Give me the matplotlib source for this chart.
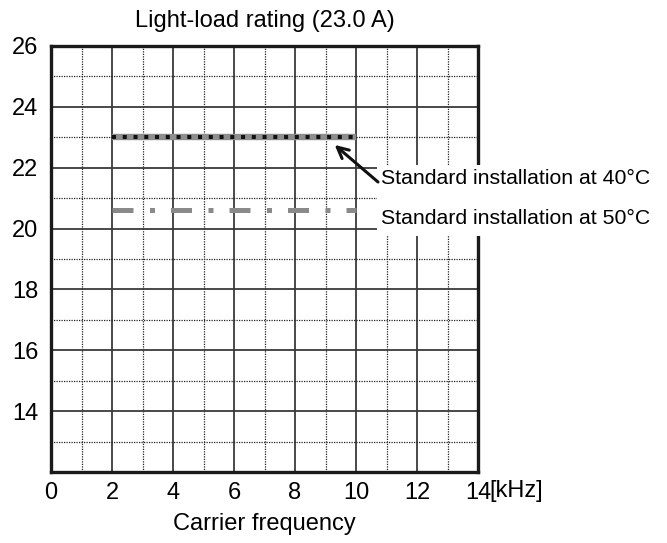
import matplotlib.pyplot as plt
from matplotlib.patches import Rectangle
from matplotlib.ticker import MultipleLocator

plt.rcParams['font.family'] = ['Liberation Sans', 'DejaVu Sans']

title = 'Light-load rating (23.0 A)'
xlabel = 'Carrier frequency'

# rated current vs carrier frequency
freq_40 = [2, 10]
amps_40 = [23.0, 23.0]
freq_50 = [2, 10]
amps_50 = [20.6, 20.6]

xticks = [0, 2, 4, 6, 8, 10, 12, 14]
yticks = [14, 16, 18, 20, 22, 24, 26]
label_40 = 'Standard installation at 40°C'
label_50 = 'Standard installation at 50°C'

fig = plt.figure(figsize=(6.67, 5.43), dpi=100)
ax = fig.add_axes([51/667, 1-472/543, 427/667, 426/543])

ax.set_xlim(0, 14)
ax.set_ylim(12, 26)
ax.set_xticks(xticks)
ax.set_yticks(yticks)
ax.xaxis.set_minor_locator(MultipleLocator(1))
ax.yaxis.set_minor_locator(MultipleLocator(1))
ax.tick_params(which='both', length=0, labelsize=17)
ax.tick_params(axis='y', pad=9)
ax.tick_params(axis='x', pad=7)
ax.grid(which='major', color='#3a3a3a', lw=1.3, ls='-')
ax.grid(which='minor', color='#222222', lw=0.9, ls=(0, (1, 1)))
for s in ax.spines.values():
    s.set_linewidth(2.4)
    s.set_color('#1a1a1a')

# 40C: grey band with black squares on top
ax.plot(freq_40, amps_40, color='#8e8e8e', lw=4.6, solid_capstyle='butt', zorder=3)
ax.plot(freq_40, amps_40, color='#111111', lw=2.9, ls=(0, (1, 1.67)),
        dash_capstyle='butt', zorder=4)
# 50C: grey dash-dot
ax.plot(freq_50, amps_50, color='#8a8a8a', lw=3.6, ls=(0, (4.2, 3.3, 1, 3.2)),
        dash_capstyle='butt', zorder=3)

ax.set_title(title, fontsize=17, pad=14)
ax.set_xlabel(xlabel, fontsize=17, labelpad=7)
ax.annotate('[kHz]', xy=(14, 12), xytext=(8.5, -13.5), textcoords='offset points',
            fontsize=17, ha='left', va='center', annotation_clip=False)

# white block behind the labels (covers grid and right spine)
ax.add_patch(Rectangle((377, 543-236), 290, 71, transform=None,
                       facecolor='white', edgecolor='none', clip_on=False, zorder=10))
ax.text(381, 543-178, label_40, transform=None, fontsize=15.3,
        ha='left', va='center', zorder=11)
ax.text(381, 543-218, label_50, transform=None, fontsize=15.3,
        ha='left', va='center', zorder=11)
ax.annotate('', xy=(9.3, 22.75), xytext=(378, 543-182), textcoords='figure pixels',
            arrowprops=dict(arrowstyle='->,head_length=0.8,head_width=0.4',
                            color='#111111', lw=2.2, shrinkA=0, shrinkB=0),
            annotation_clip=False, zorder=12)

fig.savefig('out.png', dpi=100)
